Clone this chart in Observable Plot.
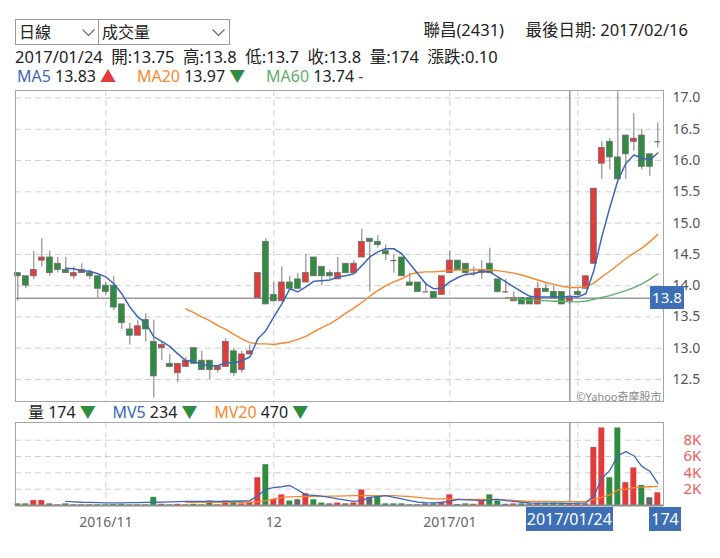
<!DOCTYPE html>
<html>
<head>
<meta charset="utf-8">
<script src="https://cdn.jsdelivr.net/npm/d3@7"></script>
<script src="https://cdn.jsdelivr.net/npm/@observablehq/plot@0.6"></script>
<style>
  html, body { margin: 0; padding: 0; background: #fff; }
  body { font-family: "Noto Sans", "Noto Sans CJK TC", sans-serif; color: #222; }
  #root { position: relative; width: 720px; height: 558px; overflow: hidden; }
  .abs { position: absolute; white-space: nowrap; line-height: 18px; }
  .sel { position: absolute; top: 19px; height: 26px; border: 1px solid #999; box-sizing: border-box; font-size: 16px; line-height: 24px; padding-left: 3px; }
  .sel svg { position: absolute; top: 9px; }
  .box { position: absolute; background: #3d6fb6; color: #fff; text-align: center; font-size: 15px; }
</style>
</head>
<body>
<div id="root"></div>
<script>
// ---------------- data ----------------
const stockName = "聯昌(2431)";
const lastDate = "2017/02/16";
const selDate = "2017/01/24";
const sel = 69; // index of the highlighted day

const open  = [14.2,14.15,14.15,14.4,14.45,14.35,14.25,14.15,14.2,14.2,
               14.15,14.0,14.0,13.7,13.3,13.2,13.45,13.1,13.0,12.75,
               12.6,12.7,13.0,12.8,12.8,12.65,12.7,12.95,12.65,12.9,
               13.8,14.7,13.85,13.75,14.05,14.1,14.05,14.45,14.3,14.2,
               14.1,14.35,14.2,14.45,14.75,14.7,14.55,14.4,14.45,14.05,
               14.05,13.9,13.9,13.85,14.2,14.4,14.35,14.2,14.2,14.35,
               14.1,13.9,13.75,13.8,13.8,13.7,13.95,13.9,13.9,13.75,
               13.9,13.95,14.35,15.95,16.3,16.05,16.4,16.3,16.4,16.1,16.3];
const high  = [14.2,14.15,14.55,14.75,14.55,14.45,14.45,14.3,14.35,14.25,
               14.15,14.05,14.15,13.7,13.4,13.45,13.55,13.45,13.1,12.9,
               12.75,12.85,13.0,12.95,12.8,12.7,13.15,13.0,12.95,13.05,
               14.2,14.75,14.05,14.3,14.15,14.2,14.5,14.45,14.3,14.25,
               14.45,14.35,14.4,14.9,14.75,14.8,14.65,14.5,14.45,14.2,
               14.05,14.05,13.9,14.15,14.55,14.4,14.35,14.3,14.4,14.6,
               14.1,14.1,13.9,13.8,13.8,14.05,14.05,14.0,13.9,13.8,
               13.95,14.15,15.55,16.3,16.35,17.1,16.4,16.75,16.5,16.1,16.6];
const low   = [13.75,13.95,14.1,14.3,14.15,14.2,14.2,14.1,14.2,14.1,
               13.8,13.85,13.6,13.3,13.05,13.2,13.1,12.2,12.8,12.7,
               12.45,12.7,12.75,12.65,12.5,12.6,12.7,12.55,12.6,12.9,
               13.8,13.7,13.75,13.75,13.95,13.95,14.05,14.15,14.0,14.1,
               14.1,14.2,14.2,14.45,13.9,14.6,14.4,14.2,14.15,14.0,
               13.9,13.9,13.78,13.85,14.2,14.25,14.15,14.15,14.1,14.2,
               13.88,13.88,13.75,13.7,13.7,13.7,13.9,13.8,13.7,13.7,
               13.8,13.95,14.35,15.7,15.85,15.7,15.7,16.15,15.85,15.75,16.2];
const close = [14.15,14.0,14.25,14.45,14.2,14.25,14.2,14.2,14.25,14.15,
               13.95,13.9,13.65,13.4,13.2,13.35,13.3,12.55,13.05,12.7,
               12.75,12.8,12.75,12.65,12.65,12.7,13.1,12.6,12.9,12.95,
               14.2,13.7,13.75,14.05,13.95,13.95,14.2,14.15,14.15,14.15,
               14.2,14.2,14.35,14.7,14.7,14.65,14.5,14.4,14.15,14.0,
               13.9,13.9,13.8,14.15,14.4,14.25,14.2,14.2,14.25,14.2,
               13.9,13.9,13.8,13.7,13.7,13.95,13.9,13.8,13.7,13.8,
               13.85,14.15,15.55,16.2,16.05,15.7,16.1,16.35,15.9,15.9,16.3];
// volume in thousands of lots, and its colour vs previous close (u/d/f)
const volume = [0.2,0.2,0.6,0.6,0.2,0.08,0.2,0.08,0.08,0.08,
                0.08,0.08,0.12,0.15,0.08,0.08,0.08,1.0,0.15,0.08,
                0.15,0.08,0.15,0.08,0.55,0.08,0.55,0.3,0.2,0.4,
                3.4,5.0,0.75,1.3,0.55,0.7,1.45,0.7,0.3,0.2,
                0.3,0.2,0.3,1.9,1.0,1.15,0.2,0.2,0.2,0.08,
                0.08,0.2,0.2,0.3,1.3,0.12,0.2,0.15,0.55,1.3,
                0.55,0.15,0.2,0.2,0.2,0.25,0.25,0.25,0.25,0.174,
                0.2,0.2,7.1,9.5,3.4,9.5,2.8,4.6,2.45,0.95,1.55];
const volDir = ["f","d","u","u","d","u","d","f","u","d",
                "d","d","d","d","d","u","d","d","u","d",
                "u","u","d","d","f","u","u","d","u","u",
                "u","d","u","u","d","f","u","d","d","f",
                "u","f","u","u","f","d","d","d","d","d",
                "d","f","d","u","u","d","d","u","u","d",
                "d","f","u","d","d","u","d","d","d","u",
                "u","u","u","u","d","d","u","u","d","f","u"];
const _ = null;
const ma5 = [_,_,_,_,_,_,14.28,14.27,14.24,14.23,
             14.19,14.14,14.03,13.87,13.66,13.5,13.4,13.18,13.11,13.03,
             12.91,12.8,12.79,12.74,12.72,12.72,12.77,12.76,12.8,12.86,
             13.15,13.28,13.5,13.71,13.95,13.9,13.98,14.07,14.08,14.09,
             14.14,14.16,14.19,14.32,14.46,14.54,14.59,14.59,14.51,14.35,
             14.19,14.03,13.95,13.96,14.06,14.13,14.18,14.19,14.23,14.22,
             14.14,14.06,13.98,13.9,13.83,13.82,13.82,13.82,13.82,13.83,
             13.82,13.87,14.24,14.78,15.25,15.68,15.95,16.09,16.04,16.01,16.12];
const ma20 = [_,_,_,_,_,_,_,_,_,_,
              _,_,_,_,_,_,_,_,_,_,
              _,13.63,13.57,13.5,13.44,13.36,13.3,13.22,13.15,13.09,
              13.07,13.07,13.06,13.08,13.1,13.14,13.19,13.26,13.33,13.39,
              13.47,13.56,13.64,13.73,13.83,13.92,14.0,14.06,14.11,14.18,
              14.21,14.22,14.22,14.23,14.24,14.25,14.25,14.25,14.25,14.25,
              14.24,14.22,14.2,14.17,14.13,14.09,14.05,14.02,13.99,13.97,
              13.97,13.98,14.04,14.14,14.23,14.33,14.43,14.52,14.6,14.7,14.82];
const ma60 = [_,_,_,_,_,_,_,_,_,_,
              _,_,_,_,_,_,_,_,_,_,
              _,_,_,_,_,_,_,_,_,_,
              _,_,_,_,_,_,_,_,_,_,
              _,_,_,_,_,_,_,_,_,_,
              _,_,_,_,_,_,_,_,_,_,
              _,13.81,13.79,13.78,13.77,13.76,13.76,13.75,13.75,13.74,
              13.74,13.75,13.78,13.81,13.84,13.88,13.92,13.97,14.03,14.1,14.19];
const mv5 = [_,_,_,_,_,_,0.5,0.45,0.4,0.38,
             0.35,0.33,0.33,0.33,0.35,0.36,0.38,0.4,0.42,0.45,
             0.47,0.5,0.5,0.5,0.5,0.5,0.5,0.52,0.55,0.6,
             1.2,2.0,2.2,2.3,2.45,1.9,1.3,1.25,1.15,1.0,
             0.8,0.65,0.5,0.6,1.0,1.1,1.2,1.0,0.8,0.6,
             0.4,0.35,0.33,0.4,0.5,0.74,0.7,0.65,0.6,0.7,
             0.74,0.6,0.5,0.4,0.33,0.3,0.3,0.3,0.3,0.234,
             0.3,0.33,1.2,3.3,4.3,6.1,6.6,6.1,4.8,4.2,2.7];
const mv20 = [_,_,_,_,_,_,_,_,_,_,
              _,_,_,_,_,_,_,_,_,_,
              _,0.4,0.4,0.4,0.4,0.4,0.4,0.4,0.4,0.4,
              0.45,0.6,0.8,1.0,1.05,1.08,1.1,1.12,1.13,1.15,
              1.15,1.17,1.2,1.2,1.2,1.2,1.2,1.2,1.15,1.1,
              1.0,0.9,0.82,0.8,0.78,0.75,0.74,0.74,0.74,0.74,
              0.74,0.7,0.62,0.55,0.5,0.5,0.5,0.48,0.47,0.47,
              0.47,0.5,0.74,1.0,1.3,1.9,2.0,2.2,2.25,2.3,2.35];
const maTrend = ["▲", "▼", "-"];
const mvTrend = ["▼", "▼", "▼"];
const monthIdx = [11, 32, 54, 70];
const monthLabels = ["2016/11", "12", "2017/01", ""];
const priceTicks = [12.5, 13.0, 13.5, 14.0, 14.5, 15.0, 15.5, 16.0, 16.5, 17.0];
const volTicks = [2, 4, 6, 8];

// ---------------- styles ----------------
const RED = "#e23b3b", GREEN = "#2f8c41", GRAY = "#666";
const BLUE = "#3d66b8", ORANGE = "#f7872f", LGREEN = "#5fae6c";
const FONT = '"Noto Sans", "Noto Sans CJK TC", sans-serif';
const xDomain = [-0.29, 80.71];

const N = close.length;
const days = d3.range(N).map(i => ({i, o: open[i], h: high[i], l: low[i], c: close[i],
  v: volume[i], vd: volDir[i]}));
const candleColor = d => d.c > d.o ? RED : d.c < d.o ? GREEN : GRAY;
const volColor = d => d.vd === "u" ? RED : d.vd === "d" ? GREEN : GRAY;
const grid = {stroke: "#cfcfcf", strokeOpacity: 1, strokeDasharray: "6,4"};

const root = document.getElementById("root");
function add(html) { root.insertAdjacentHTML("beforeend", html); }
const chev = '<svg width="13" height="8"><polyline points="0.5,0.5 6.5,6.5 12.5,0.5" fill="none" stroke="#666" stroke-width="1.1"/></svg>';

// ---------------- header ----------------
add(`<div class="sel" style="left:15px;width:84px;">日線<span style="position:absolute;left:66px;top:0">${chev}</span></div>`);
add(`<div class="sel" style="left:98px;width:132px;">成交量<span style="position:absolute;left:113px;top:0">${chev}</span></div>`);
add(`<div class="abs" style="right:32px;top:21px;font-size:16.5px;">${stockName}&nbsp;&nbsp;&nbsp;&nbsp; 最後日期: ${lastDate}</div>`);
const chg = (close[sel] - close[sel - 1]).toFixed(2);
add(`<div class="abs" style="left:15px;top:48px;font-size:16.5px;">${selDate}&nbsp; 開:${open[sel]}&nbsp; 高:${high[sel]}&nbsp; 低:${low[sel]}&nbsp; 收:${close[sel]}&nbsp; 量:${Math.round(volume[sel]*1000)}&nbsp; 漲跌:${chg}</div>`);
const arrowCol = s => s === "▲" ? RED : s === "▼" ? GREEN : "#444";
add(`<div class="abs" style="left:17px;top:67px;font-size:16px;">` +
  `<span style="color:${BLUE}">MA5</span> ${ma5[sel].toFixed(2)} <span style="color:${arrowCol(maTrend[0])}">${maTrend[0]}</span>&nbsp;&nbsp;&nbsp;&nbsp; ` +
  `<span style="color:${ORANGE}">MA20</span> ${ma20[sel].toFixed(2)} <span style="color:${arrowCol(maTrend[1])}">${maTrend[1]}</span>&nbsp;&nbsp;&nbsp;&nbsp; ` +
  `<span style="color:${LGREEN}">MA60</span> ${ma60[sel].toFixed(2)} <span style="color:${arrowCol(maTrend[2])}">${maTrend[2]}</span></div>`);

// ---------------- price panel ----------------
const PRICE_TOP = 80;
const pricePlot = Plot.plot({
  width: 720, height: 330, marginTop: 10, marginBottom: 9, marginLeft: 15, marginRight: 57,
  x: {domain: xDomain, axis: null},
  y: {domain: [12.148, 17.12], axis: null},
  style: {fontFamily: FONT, background: "transparent", overflow: "visible"},
  marks: [
    Plot.gridY(priceTicks, grid),
    Plot.gridX(monthIdx, grid),
    Plot.axisY(priceTicks, {anchor: "right", label: null, tickSize: 0, tickPadding: 9, fontSize: 14, fill: "#555",
      tickFormat: d => d.toFixed(1)}),
    Plot.ruleY([close[sel]], {stroke: "#9a9a9a", strokeWidth: 1.5}),
    Plot.ruleX([sel], {stroke: "#9a9a9a", strokeWidth: 1.5}),
    Plot.ruleX(days, {x: "i", y1: "l", y2: "h", stroke: "#7a7a7a", strokeWidth: 1}),
    Plot.rect(days.filter(d => d.o !== d.c), {x1: d => d.i - 0.37, x2: d => d.i + 0.37, y1: "o", y2: "c",
      fill: candleColor, stroke: "#6f6f6f", strokeWidth: 0.8}),
    Plot.ruleY(days.filter(d => d.o === d.c), {y: "o", x1: d => d.i - 0.37, x2: d => d.i + 0.37, stroke: "#555"}),
    Plot.line(d3.range(N), {x: d => d, y: d => ma60[d], stroke: LGREEN, strokeWidth: 1.4}),
    Plot.line(d3.range(N), {x: d => d, y: d => ma20[d], stroke: ORANGE, strokeWidth: 1.4}),
    Plot.line(d3.range(N), {x: d => d, y: d => ma5[d], stroke: BLUE, strokeWidth: 1.5}),
    Plot.text(["©Yahoo奇摩股市"], {frameAnchor: "bottom-right", dx: -2, dy: -1, fontSize: 11, fill: "#8a8a8a"}),
    Plot.frame({stroke: "#a5a5a5"})
  ]
});
pricePlot.style.position = "absolute";
pricePlot.style.left = "0px";
pricePlot.style.top = PRICE_TOP + "px";
root.appendChild(pricePlot);
const yPriceSel = PRICE_TOP + pricePlot.scale("y").apply(close[sel]);
add(`<div class="box" style="left:650px;width:34px;top:${(yPriceSel - 11.5).toFixed(1)}px;height:23px;line-height:23px;">${close[sel]}</div>`);

// ---------------- volume panel ----------------
add(`<div class="abs" style="left:28px;top:403px;font-size:16px;">量 ${Math.round(volume[sel]*1000)} <span style="color:${GREEN}">${mvTrend[0]}</span>&nbsp;&nbsp;&nbsp; ` +
  `<span style="color:${BLUE}">MV5</span> ${Math.round(mv5[sel]*1000)} <span style="color:${GREEN}">${mvTrend[1]}</span>&nbsp;&nbsp;&nbsp; ` +
  `<span style="color:${ORANGE}">MV20</span> ${Math.round(mv20[sel]*1000)} <span style="color:${GREEN}">${mvTrend[2]}</span></div>`);

const VOL_TOP = 415;
const volPlot = Plot.plot({
  width: 720, height: 135, marginTop: 7, marginBottom: 45, marginLeft: 15, marginRight: 57,
  x: {domain: xDomain, axis: null},
  y: {domain: [0, 10.17], axis: null},
  style: {fontFamily: FONT, background: "transparent", overflow: "visible"},
  marks: [
    Plot.gridY(volTicks, grid),
    Plot.gridX(monthIdx, grid),
    Plot.axisY(volTicks, {anchor: "right", label: null, tickSize: 0, tickPadding: 20, fontSize: 15, fill: "#ef5a5a",
      tickFormat: d => d + "K"}),
    Plot.axisX(monthIdx.slice(0, 3), {anchor: "bottom", label: null, tickSize: 0, tickPadding: 12, fontSize: 14, fill: "#666",
      tickFormat: (d, k) => monthLabels[k]}),
    Plot.ruleX([sel], {stroke: "#9a9a9a", strokeWidth: 1.5}),
    Plot.rect(days, {x1: d => d.i - 0.37, x2: d => d.i + 0.37, y1: 0, y2: "v", fill: volColor}),
    Plot.line(d3.range(N), {x: d => d, y: d => mv20[d], stroke: ORANGE, strokeWidth: 1.3}),
    Plot.line(d3.range(N), {x: d => d, y: d => mv5[d], stroke: BLUE, strokeWidth: 1.3}),
    Plot.frame({stroke: "#a5a5a5"}),
    Plot.ruleY([0], {stroke: "#8c8c8c", strokeWidth: 2})
  ]
});
volPlot.style.position = "absolute";
volPlot.style.left = "0px";
volPlot.style.top = VOL_TOP + "px";
root.appendChild(volPlot);
const xSel = volPlot.scale("x").apply(sel);
add(`<div class="box" style="left:${(xSel - 43.5).toFixed(1)}px;width:87px;top:507px;height:24px;line-height:24px;font-size:16px;">${selDate}</div>`);
add(`<div class="box" style="left:649px;width:32px;top:507px;height:24px;line-height:24px;font-size:16px;">${Math.round(volume[sel]*1000)}</div>`);
</script>
</body>
</html>
